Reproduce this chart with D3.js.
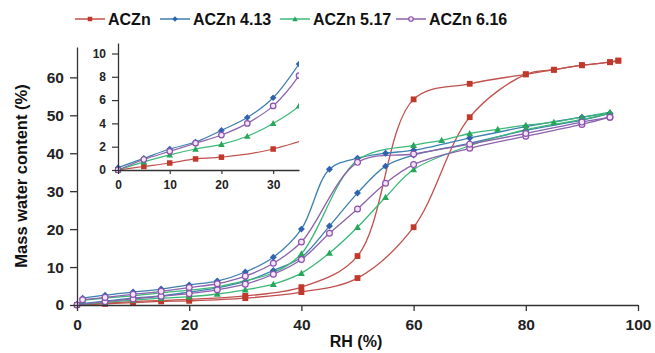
<!DOCTYPE html>
<html>
<head>
<meta charset="utf-8">
<script src="https://cdn.jsdelivr.net/npm/d3@7"></script>
<style>
  html, body { margin: 0; padding: 0; background: #fff; }
  svg { display: block; font-family: "Liberation Sans", Arial, sans-serif; }
</style>
</head>
<body>
<svg id="chart" width="655" height="353"></svg>
<script>
// Water sorption isotherms (adsorption + desorption branches)
const seriesNames = ["ACZn", "ACZn 4.13", "ACZn 5.17", "ACZn 6.16"];

const rhAdsRed = [0, 5, 10, 15, 20, 30, 40, 50, 60, 70, 80, 85, 90, 95, 96.5];
const wAdsRed  = [0, 0.3, 0.6, 0.95, 1.1, 1.8, 3.4, 7.1, 20.5, 49.5, 60.8, 62, 63.2, 64, 64.4];
const rhDesRed = [96.5, 95, 90, 85, 80, 70, 60, 50, 40, 30, 20, 10, 5, 0];
const wDesRed  = [64.4, 64, 63.2, 62, 60.8, 58.3, 54.2, 12.9, 4.7, 2.4, 1.5, 0.9, 0.5, 0];

const rhAds = [0, 5, 10, 15, 20, 25, 30, 35, 40, 45, 50, 55, 60, 70, 80, 90, 95];
const wAds413 = [0.2, 1.0, 1.8, 2.4, 3.4, 4.5, 6.2, 9.1, 12.6, 20.8, 29.5, 36.6, 39.5, 42.6, 46, 48.7, 50.5];
const wAds517 = [0, 0.7, 1.3, 1.8, 2.2, 2.9, 4.0, 5.5, 8.4, 13.7, 20.5, 28.4, 35.7, 42, 46.2, 48.9, 50.6];
const wAds616 = [0, 0.9, 1.6, 2.3, 3.0, 4.0, 5.5, 8.1, 12, 18.9, 25.3, 32.1, 37, 41.3, 44.5, 47.6, 49.5];

const rhDes413 = [95, 90, 80, 70, 60, 55, 50, 45, 40, 35, 30, 25, 20, 15, 10, 5, 1];
const wDes413  = [50.5, 49.5, 47, 44, 40.8, 40, 38.7, 35.8, 20, 12.6, 8.7, 6.3, 5.3, 4.2, 3.4, 2.6, 1.8];
const rhDes517 = [95, 90, 85, 80, 75, 70, 65, 60, 50, 40, 35, 30, 25, 20, 15, 10, 5, 1];
const wDes517  = [50.8, 49.5, 48.2, 47.4, 46.3, 45.2, 43.4, 42.1, 38.2, 13.5, 8.5, 6.4, 4.8, 3.9, 3.2, 2.4, 1.8, 1.2];
const rhDes616 = [95, 90, 80, 70, 60, 50, 40, 35, 30, 25, 20, 15, 10, 5, 1];
const wDes616  = [49.5, 48.2, 45.2, 42.4, 39.8, 37.6, 16.6, 11, 7.6, 5.6, 4.6, 3.6, 2.8, 2.0, 1.4];

const xTicksMain = [0, 20, 40, 60, 80, 100];
const yTicksMain = [0, 10, 20, 30, 40, 50, 60];
const xTicksInset = [0, 10, 20, 30];
const yTicksInset = [0, 2, 4, 6, 8, 10];

const styles = [
  { line: "#c0504d", mark: "#c0392b", shape: "square" },
  { line: "#3d7fae", mark: "#2f62b0", shape: "diamond" },
  { line: "#3cb878", mark: "#25a85a", shape: "triangle" },
  { line: "#8b62ad", mark: "#8e4fb0", shape: "circle" }
];

const zip = (xs, ys) => xs.map((x, i) => ({ x, y: ys[i] }));
const branches = [
  { s: 0, pts: zip(rhAdsRed, wAdsRed), ads: true },
  { s: 0, pts: zip(rhDesRed, wDesRed), ads: false },
  { s: 1, pts: zip(rhAds, wAds413), ads: true },
  { s: 1, pts: zip(rhDes413, wDes413), ads: false },
  { s: 2, pts: zip(rhAds, wAds517), ads: true },
  { s: 2, pts: zip(rhDes517, wDes517), ads: false },
  { s: 3, pts: zip(rhAds, wAds616), ads: true },
  { s: 3, pts: zip(rhDes616, wDes616), ads: false }
];

const svg = d3.select("#chart");

function drawMarker(g, shape, x, y, st, size) {
  if (shape === "square") {
    g.append("rect").attr("x", x - size / 2).attr("y", y - size / 2)
      .attr("width", size).attr("height", size).attr("fill", st.mark);
  } else if (shape === "diamond") {
    const h = size * 0.6;
    g.append("path").attr("d", `M${x},${y - h}L${x + h},${y}L${x},${y + h}L${x - h},${y}Z`)
      .attr("fill", st.mark);
  } else if (shape === "triangle") {
    const h = size * 0.6;
    g.append("path").attr("d", `M${x},${y - h}L${x + h},${y + h * 0.8}L${x - h},${y + h * 0.8}Z`)
      .attr("fill", st.mark);
  } else {
    g.append("circle").attr("cx", x).attr("cy", y).attr("r", size * 0.5)
      .attr("fill", "#f3e6f5").attr("stroke", st.mark).attr("stroke-width", 1.2);
  }
}

function drawPanel(g, x, y, list, size, lw) {
  const line = d3.line().x(d => x(d.x)).y(d => y(d.y)).curve(d3.curveCatmullRom.alpha(0.5));
  list.forEach(b => {
    g.append("path").attr("d", line(b.pts)).attr("fill", "none")
      .attr("stroke", styles[b.s].line).attr("stroke-width", lw);
  });
  list.forEach(b => {
    b.pts.forEach(p => {
      if (p.x <= x.domain()[1] + 0.01)
        drawMarker(g, styles[b.s].shape, x(p.x), y(p.y), styles[b.s], size);
    });
  });
}

// ---- main plot ----
const x = d3.scaleLinear().domain([0, 100]).range([77, 638]);
const y = d3.scaleLinear().domain([0, 68]).range([305, 47]);

const main = svg.append("g");
drawPanel(main, x, y, branches, 5.8, 1.3);

const xAxis = main.append("g").attr("transform", `translate(0,${y(0)})`)
  .call(d3.axisBottom(x).tickValues(xTicksMain).tickSize(6).tickPadding(8).tickSizeOuter(0));
const yAxis = main.append("g").attr("transform", `translate(${x(0)},0)`)
  .call(d3.axisLeft(y).tickValues(yTicksMain).tickSize(7).tickPadding(6).tickSizeOuter(0));
[xAxis, yAxis].forEach(a => {
  a.selectAll("path.domain").attr("stroke", "#333").attr("stroke-width", 1.3);
  a.selectAll(".tick line").attr("stroke", "#333").attr("stroke-width", 1.3);
  a.selectAll("text").attr("font-size", 15.5).attr("font-weight", "bold").attr("fill", "#222")
    .attr("font-family", "'Liberation Sans', Arial, sans-serif");
});

svg.append("text").attr("x", 356).attr("y", 347).attr("text-anchor", "middle")
  .attr("font-size", 16).attr("font-weight", "bold").attr("fill", "#111").text("RH (%)");
svg.append("text").attr("transform", "translate(27,176) rotate(-90)").attr("text-anchor", "middle")
  .attr("font-size", 16.5).attr("font-weight", "bold").attr("fill", "#111")
  .text("Mass water content (%)");

// ---- inset: low RH adsorption ----
const xi = d3.scaleLinear().domain([0, 35]).range([118, 299]);
const yi = d3.scaleLinear().domain([0, 10.9]).range([170, 43]);
const inset = svg.append("g");
svg.append("defs").append("clipPath").attr("id", "insetClip")
  .append("rect").attr("x", xi(0) - 6).attr("y", 38).attr("width", xi(35) - xi(0) + 6).attr("height", 140);
const insetPlot = inset.append("g").attr("clip-path", "url(#insetClip)");
drawPanel(insetPlot, xi, yi, branches.filter(b => b.ads), 5.5, 1.2);

const xiAxis = inset.append("g").attr("transform", `translate(0,${yi(0)})`)
  .call(d3.axisBottom(xi).tickValues(xTicksInset).tickSize(4).tickPadding(6).tickSizeOuter(0));
const yiAxis = inset.append("g").attr("transform", `translate(${xi(0)},0)`)
  .call(d3.axisLeft(yi).tickValues(yTicksInset).tickSize(6).tickPadding(6).tickSizeOuter(0));
[xiAxis, yiAxis].forEach(a => {
  a.selectAll("path.domain").attr("stroke", "#333").attr("stroke-width", 1.3);
  a.selectAll(".tick line").attr("stroke", "#333").attr("stroke-width", 1.2);
  a.selectAll("text").attr("font-size", 12).attr("font-weight", "bold").attr("fill", "#222")
    .attr("font-family", "'Liberation Sans', Arial, sans-serif");
});

// ---- legend ----
const legendX = [75, 160, 280, 396];
const legend = svg.append("g");
seriesNames.forEach((name, i) => {
  const st = styles[i];
  const lx = legendX[i];
  legend.append("line").attr("x1", lx).attr("x2", lx + 30).attr("y1", 19).attr("y2", 19)
    .attr("stroke", st.line).attr("stroke-width", 1.5);
  drawMarker(legend, st.shape, lx + 15, 19, st, 4.5);
  legend.append("text").attr("x", lx + 33).attr("y", 25).attr("font-size", 16)
    .attr("font-weight", "bold").attr("fill", "#111").text(name);
});
</script>
</body>
</html>
